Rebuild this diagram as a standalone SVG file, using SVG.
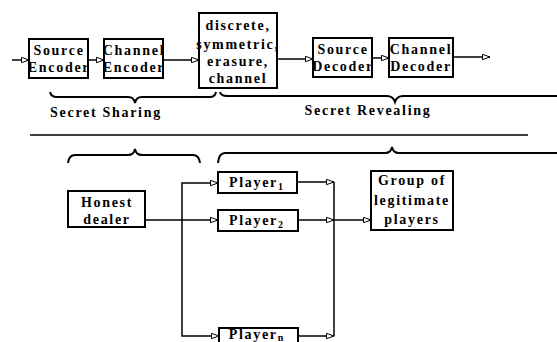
<svg xmlns="http://www.w3.org/2000/svg" width="557" height="342" viewBox="0 0 557 342">
<defs>
<style>
.box{fill:#fff;stroke:#000;stroke-width:2}
.ln{fill:none;stroke:#000;stroke-width:1.5}
.br{fill:none;stroke:#000;stroke-width:2}
text{font-family:"Liberation Serif","DejaVu Serif",serif;font-weight:bold;font-size:14px;letter-spacing:1.7px;fill:#000;text-anchor:middle}
.sub{font-size:10px;letter-spacing:0}
</style>
<marker id="ah" markerWidth="9" markerHeight="7" refX="8" refY="3.5" orient="auto" markerUnits="userSpaceOnUse">
<path d="M0.5,0.8 L8,3.5 L0.5,6.2 z" fill="#fff" stroke="#000" stroke-width="1"/>
</marker>
</defs>
<rect width="557" height="342" fill="#fff"/>

<g id="connectors">
<path class="ln" d="M12,60 H29" marker-end="url(#ah)"/>
<path class="ln" d="M88,60 H104" marker-end="url(#ah)"/>
<path class="ln" d="M163,60 H199" marker-end="url(#ah)"/>
<path class="ln" d="M277,59 H313" marker-end="url(#ah)"/>
<path class="ln" d="M372,58 H389" marker-end="url(#ah)"/>
<path class="ln" d="M453,57 H490" marker-end="url(#ah)"/>
<path class="ln" d="M145,220 H218" marker-end="url(#ah)"/>
<path class="ln" d="M182,220 V183 H218" marker-end="url(#ah)"/>
<path class="ln" d="M182,220 V336 H219" marker-end="url(#ah)"/>
<path class="ln" d="M297,182 H334" marker-end="url(#ah)"/>
<path class="ln" d="M298,220 H334" marker-end="url(#ah)"/>
<path class="ln" d="M298,336 H334" marker-end="url(#ah)"/>
<path class="ln" d="M334,182 V336"/>
<path class="ln" d="M334,220 H371" marker-end="url(#ah)"/>
</g>

<g id="separators">
<path class="br" d="M50,92 Q51,97 57,97 L128,97 Q134,97 135,103 Q136,97 142,97 L210,97 Q215,97 216,92"/>
<path class="br" d="M220,92 Q221,96 227,96 L387,96 Q393,96 395,102 Q397,96 403,96 L560,96"/>
<path class="ln" d="M30,135 H528"/>
<path class="br" d="M68,163 Q69,155 75,155 L128,155 Q134,155 135,149 Q136,155 142,155 L193,155 Q199,155 200,163"/>
<path class="br" d="M218,163 Q219,153 225,153 L385,153 Q391,153 392,147 Q393,153 399,153 L560,153"/>
</g>

<g id="source-encoder">
<rect class="box" x="29" y="39" width="59" height="39"/>
<text x="59" y="55">Source</text>
<text x="59" y="72">Encoder</text>
</g>
<g id="channel-encoder">
<rect class="box" x="104" y="39" width="59" height="39"/>
<text x="134" y="55">Channel</text>
<text x="134" y="72">Encoder</text>
</g>
<g id="channel">
<rect class="box" x="199" y="13" width="78" height="75"/>
<text x="238" y="30">discrete,</text>
<text x="238" y="49">symmetric,</text>
<text x="238" y="66">erasure,</text>
<text x="238" y="83">channel</text>
</g>
<g id="source-decoder">
<rect class="box" x="313" y="38" width="59" height="39"/>
<text x="343" y="54">Source</text>
<text x="343" y="71">Decoder</text>
</g>
<g id="channel-decoder">
<rect class="box" x="389" y="38" width="64" height="39"/>
<text x="421" y="54">Channel</text>
<text x="421" y="71">Decoder</text>
</g>
<g id="label-sharing"><text x="106" y="117">Secret Sharing</text></g>
<g id="label-revealing"><text x="368" y="115">Secret Revealing</text></g>

<g id="honest-dealer">
<rect class="box" x="68" y="191" width="77" height="36"/>
<text x="107" y="207">Honest</text>
<text x="107" y="224">dealer</text>
</g>
<g id="player1">
<rect class="box" x="218" y="172" width="79" height="21"/>
<text x="256" y="187">Player<tspan class="sub" dy="3">1</tspan></text>
</g>
<g id="player2">
<rect class="box" x="218" y="210" width="80" height="21"/>
<text x="256" y="225">Player<tspan class="sub" dy="3">2</tspan></text>
</g>
<g id="playern">
<rect class="box" x="219" y="328" width="79" height="20"/>
<text x="256" y="339">Player<tspan class="sub" dy="2">n</tspan></text>
</g>
<g id="group">
<rect class="box" x="371" y="171" width="82" height="59"/>
<text x="412" y="185">Group of</text>
<text x="412" y="205">legitimate</text>
<text x="412" y="224">players</text>
</g>
</svg>
